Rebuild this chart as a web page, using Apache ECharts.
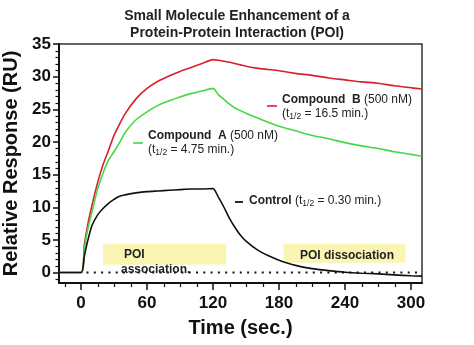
<!DOCTYPE html>
<html>
<head>
<meta charset="utf-8">
<script src="https://cdn.jsdelivr.net/npm/echarts@6/dist/echarts.min.js"></script>
<style>html,body{margin:0;padding:0;background:#fff}#c{width:474px;height:345px}</style>
</head>
<body>
<div id="c"></div>
<script>
// ---- data ----
var times = [-20,0,3,6,10,15,20,25,30,35,40,50,60,70,80,90,100,110,120,125,130,135,140,145,150,160,170,180,195,210,225,240,255,270,285,300,310];
var compoundB = [0,0,4.2,7.2,10.3,13.7,16.5,18.7,21.0,22.7,24.3,26.6,28.2,29.3,30.1,30.8,31.4,32.0,32.6,32.5,32.35,32.2,32.0,31.8,31.6,31.3,31.1,30.9,30.5,30.2,29.8,29.5,29.2,29.0,28.6,28.3,28.1];
var compoundA = [0,0,3.6,6.5,9.3,12.7,15.2,17.2,18.5,19.9,21.4,23.4,24.6,25.6,26.3,26.9,27.4,27.8,28.2,27.2,26.5,25.8,25.2,24.8,24.4,23.7,23.0,22.4,21.7,21.0,20.5,19.9,19.4,19.0,18.5,18.1,17.8];
var control   = [0,0,2.5,4.8,7.2,8.8,9.8,10.6,11.2,11.7,11.9,12.2,12.4,12.5,12.6,12.7,12.8,12.8,12.85,11.5,10.0,8.3,6.9,5.7,4.8,3.5,2.6,1.9,1.1,0.6,0.3,0.05,-0.1,-0.2,-0.35,-0.5,-0.55];
var baselineTimes = [5,310];
var baselineValues = [0,0];
var xTickLabels = [0,60,120,180,240,300];
var xMinorTicks = [-15,15,30,45,75,90,105,135,150,165,195,210,225,255,270,285];
var yTickLabels = [0,5,10,15,20,25,30,35];
var yMinorTicks = [-1,1,2,3,4,6,7,8,9,11,12,13,14,16,17,18,19,21,22,23,24,26,27,28,29,31,32,33,34];
var associationWindow = [20,132,1.2,4.4];
var dissociationWindow = [184,295,1.5,4.4];

function pairs(xs, ys){ return xs.map(function(x,i){ return [x, ys[i]]; }); }

var FONT = 'Liberation Sans, Arial, sans-serif';
var chart = echarts.init(document.getElementById('c'), null, {renderer:'canvas'});

var X_MIN = -20, Y_MIN = -1.6;

var option = {
  animation:false,
  backgroundColor:'#ffffff',
  title:{
    text:'Small Molecule Enhancement of a\nProtein-Protein Interaction (POI)',
    left:'center', top:3,
    textStyle:{fontFamily:FONT, fontSize:14, fontWeight:'bold', color:'#222', lineHeight:17}
  },
  grid:{left:59, right:52, top:44, bottom:62, outerBoundsMode:'none', containLabel:false,
        show:true, borderColor:'#333', borderWidth:1.5, backgroundColor:'transparent'},
  xAxis:{
    type:'value', min:X_MIN, max:310,
    name:'Time (sec.)', nameLocation:'middle', nameGap:35,
    nameTextStyle:{fontFamily:FONT, fontSize:20, fontWeight:'bold', color:'#111'},
    axisLine:{show:true, onZero:false, lineStyle:{color:'#111', width:2}},
    axisTick:{show:true, inside:false, length:7, customValues:xTickLabels, lineStyle:{color:'#111', width:1.5}},
    axisLabel:{customValues:xTickLabels, margin:12, fontFamily:FONT, fontSize:17, fontWeight:'bold', color:'#111'},
    splitLine:{show:false}
  },
  yAxis:{
    type:'value', min:Y_MIN, max:35,
    name:'Relative Response (RU)', nameLocation:'middle', nameGap:31,
    nameTextStyle:{fontFamily:FONT, fontSize:20, fontWeight:'bold', color:'#111'},
    axisLine:{show:true, onZero:false, lineStyle:{color:'#111', width:2}},
    axisTick:{show:true, length:6, customValues:yTickLabels, lineStyle:{color:'#111', width:1.5}},
    axisLabel:{customValues:yTickLabels, margin:8, fontFamily:FONT, fontSize:17, fontWeight:'bold', color:'#111'},
    splitLine:{show:false}
  },
  series:[
    {
      type:'line', name:'boxes', data:[], silent:true,
      markArea:{
        silent:true,
        itemStyle:{color:'#fbf5b3'},
        data:[
          [{xAxis:associationWindow[0], yAxis:associationWindow[3]},{xAxis:associationWindow[1], yAxis:associationWindow[2]}],
          [{xAxis:dissociationWindow[0], yAxis:dissociationWindow[3]},{xAxis:dissociationWindow[1], yAxis:dissociationWindow[2]}]
        ],
        label:{show:false}
      }
    },
    {
      type:'line', name:'baseline', data:pairs(baselineTimes, baselineValues), showSymbol:false, silent:true,
      lineStyle:{color:'#111', width:2, type:[2,5.3]}
    },
    {
      type:'line', name:'Compound B', data:pairs(times, compoundB), showSymbol:false, smooth:0.25,
      lineStyle:{color:'#d8202c', width:1.6}
    },
    {
      type:'line', name:'Compound A', data:pairs(times, compoundA), showSymbol:false, smooth:0.25,
      lineStyle:{color:'#45d845', width:1.6}
    },
    {
      type:'line', name:'Control', data:pairs(times, control), showSymbol:false, smooth:0.25,
      lineStyle:{color:'#111', width:1.6}
    }
  ],
  graphic:[
    // Compound B
    {type:'line', z:100, shape:{x1:267,y1:106,x2:277,y2:106}, style:{stroke:'#d8202c', lineWidth:1.6}},
    {type:'text', z:100, x:282, y:100, style:{text:'{b|Compound  B} {n|(500 nM)}', verticalAlign:'middle',
      rich:{b:{fontFamily:FONT,fontSize:12,fontWeight:'bold',fill:'#222'}, n:{fontFamily:FONT,fontSize:12,fill:'#222'}}}},
    {type:'text', z:100, x:282, y:114, style:{text:'{n|(t}{s|1/2}{n| = 16.5 min.)}', verticalAlign:'middle',
      rich:{n:{fontFamily:FONT,fontSize:12,fill:'#222'}, s:{fontFamily:FONT,fontSize:8.5,fill:'#222',verticalAlign:'bottom',padding:[5,0,0,0]}}}},
    // Compound A
    {type:'line', z:100, shape:{x1:133,y1:143,x2:143,y2:143}, style:{stroke:'#45d845', lineWidth:1.6}},
    {type:'text', z:100, x:148, y:136, style:{text:'{b|Compound  A} {n|(500 nM)}', verticalAlign:'middle',
      rich:{b:{fontFamily:FONT,fontSize:12,fontWeight:'bold',fill:'#222'}, n:{fontFamily:FONT,fontSize:12,fill:'#222'}}}},
    {type:'text', z:100, x:148, y:150, style:{text:'{n|(t}{s|1/2}{n| = 4.75 min.)}', verticalAlign:'middle',
      rich:{n:{fontFamily:FONT,fontSize:12,fill:'#222'}, s:{fontFamily:FONT,fontSize:8.5,fill:'#222',verticalAlign:'bottom',padding:[5,0,0,0]}}}},
    // Control
    {type:'line', z:100, shape:{x1:235,y1:202,x2:243,y2:202}, style:{stroke:'#111', lineWidth:1.8}},
    {type:'text', z:100, x:249, y:201, style:{text:'{b|Control} {n|(t}{s|1/2}{n| = 0.30 min.)}', verticalAlign:'middle',
      rich:{b:{fontFamily:FONT,fontSize:12,fontWeight:'bold',fill:'#222'}, n:{fontFamily:FONT,fontSize:12,fill:'#222'}, s:{fontFamily:FONT,fontSize:8.5,fill:'#222',verticalAlign:'bottom',padding:[5,0,0,0]}}}},
    // POI boxes
    {type:'text', z:100, x:124, y:255, style:{text:'POI', verticalAlign:'middle', fontFamily:FONT, fontSize:12, fontWeight:'bold', fill:'#222'}},
    {type:'text', z:100, x:121, y:270, style:{text:'association.', verticalAlign:'middle', fontFamily:FONT, fontSize:12, fontWeight:'bold', fill:'#222'}},
    {type:'text', z:100, x:347, y:256, style:{text:'POI dissociation', align:'center', verticalAlign:'middle', fontFamily:FONT, fontSize:12, fontWeight:'bold', fill:'#222'}}
  ]
};
chart.setOption(option);

// minor ticks, positioned through the library's own axis scales
var x0 = chart.convertToPixel({xAxisIndex:0}, X_MIN);
var y0 = chart.convertToPixel({yAxisIndex:0}, Y_MIN);
var minor = [];
xMinorTicks.forEach(function(v){
  var px = Math.round(chart.convertToPixel({xAxisIndex:0}, v)) + 0.5;
  minor.push({type:'line', z:50, silent:true, shape:{x1:px, y1:y0, x2:px, y2:y0 + 4}, style:{stroke:'#111', lineWidth:1.2}});
});
yMinorTicks.forEach(function(v){
  var py = Math.round(chart.convertToPixel({yAxisIndex:0}, v)) + 0.5;
  minor.push({type:'line', z:50, silent:true, shape:{x1:x0 - 3.5, y1:py, x2:x0, y2:py}, style:{stroke:'#111', lineWidth:1.2}});
});
chart.setOption({graphic: option.graphic.concat(minor)});
</script>
</body>
</html>
